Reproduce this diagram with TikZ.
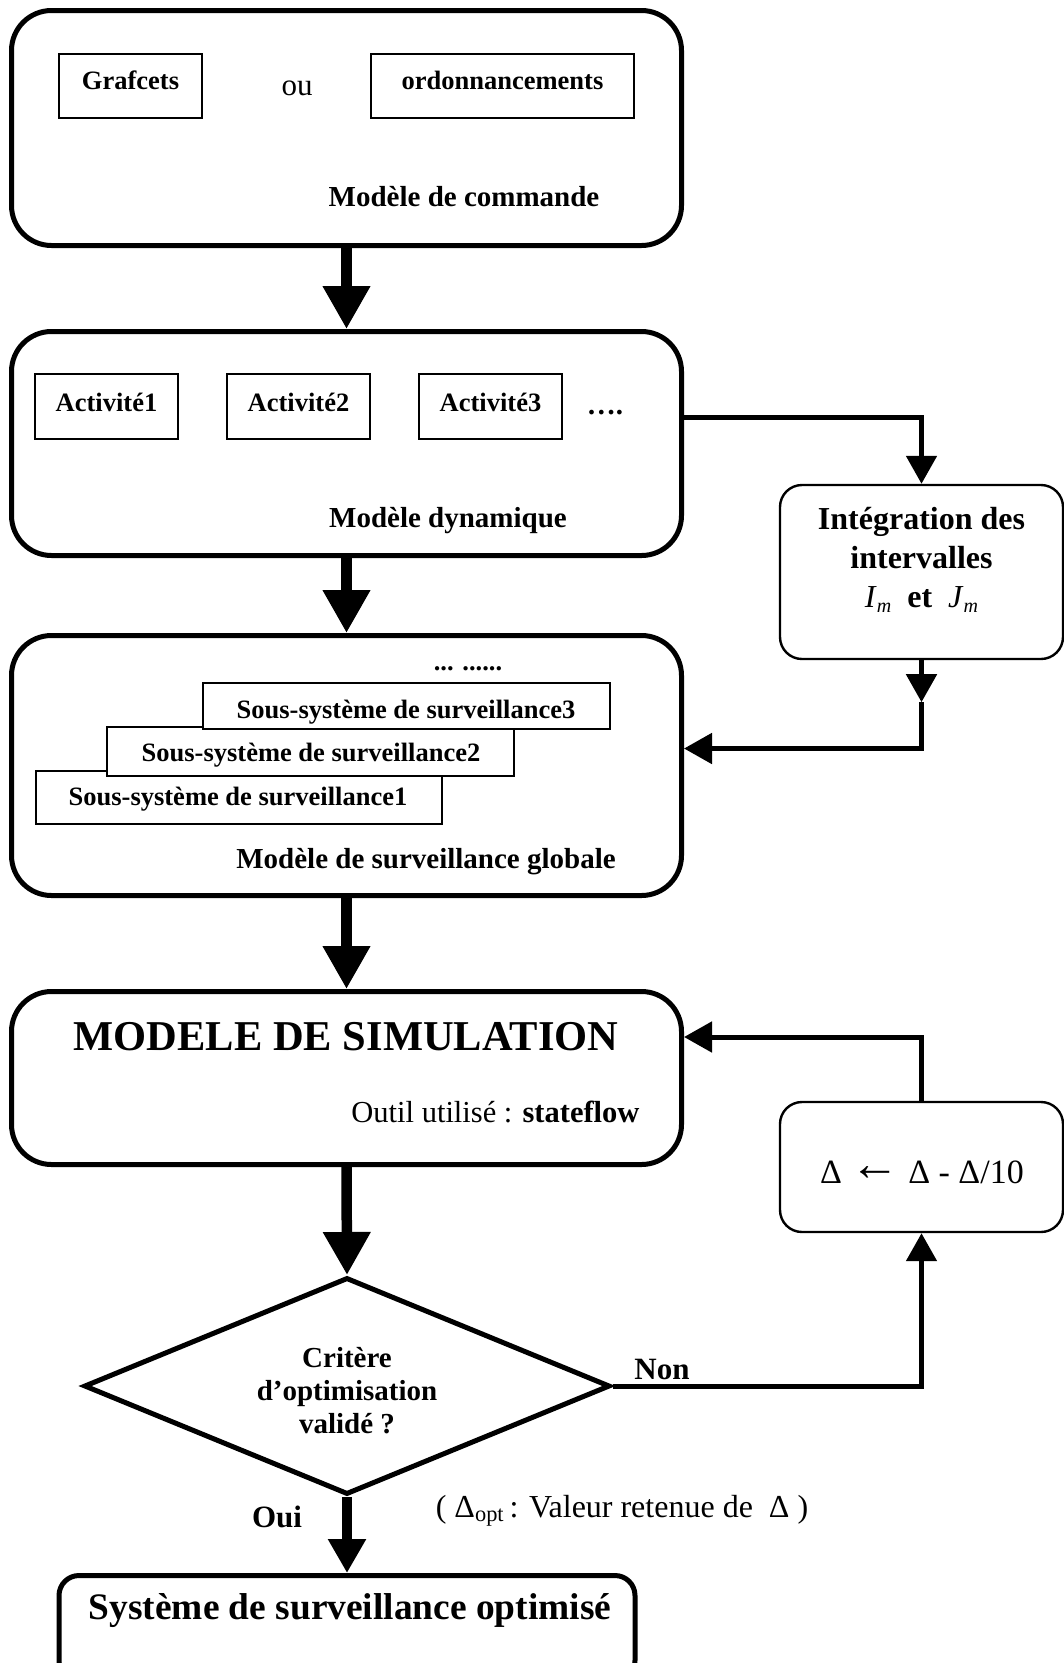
\documentclass[tikz,border=0pt]{standalone}
\usepackage{fontspec}
\setmainfont{Liberation Serif}
\usetikzlibrary{shapes.geometric,arrows.meta,calc}

\newcommand\fsz[2]{\fontsize{#1}{#2}\selectfont}

\tikzset{
  bigbox/.style={draw, line width=5pt, rounded corners=40pt, inner sep=0pt},
  subbox/.style={draw, line width=1.8pt, fill=white, inner sep=0pt},
  sidebox/.style={draw, line width=2.4pt, rounded corners=22pt, inner sep=0pt},
  decision/.style={diamond, draw, line width=5pt, inner sep=0pt},
  subtxt/.style={font=\fsz{26.5pt}{30pt}\bfseries},
  mainarrow/.style={line width=10.5pt, -{Triangle[length=43pt,width=45pt]}},
  sidearrow/.style={line width=5pt, -{Triangle[length=28pt,width=30pt]}},
}

\begin{document}
\begin{tikzpicture}[x=1pt, y=-1pt, every node/.style={font=\fsz{29pt}{33pt}\bfseries}]
  \useasboundingbox (0,0) rectangle (1064,1663);

  % Modele de commande
  \node[bigbox, minimum width=670pt, minimum height=235pt] (cmd) at (346.5,128) {};
  \node[subbox, minimum width=143pt, minimum height=64pt] (graf) at (130.5,86) {};
  \node[subtxt] (graftxt) at (130.5,80) {Grafcets};
  \node[font=\fsz{31pt}{34pt}\mdseries] (ou) at (297,88) {ou};
  \node[subtxt, subbox, minimum width=263pt, minimum height=64pt] (ordo) at (502.5,86) {};
  \node[subtxt] (ordotxt) at (502.5,80) {ordonnancements};
  \node (cmdtxt) at (464,197) {Modèle de commande};

  % Modele dynamique
  \node[bigbox, minimum width=670pt, minimum height=224pt] (dyn) at (346.5,443.5) {};
  \node[subbox, minimum width=143pt, minimum height=65pt] (act1) at (106.5,406.5) {};
  \node[subbox, minimum width=143pt, minimum height=65pt] (act2) at (298.5,406.5) {};
  \node[subbox, minimum width=143pt, minimum height=65pt] (act3) at (490.5,406.5) {};
  \node[subtxt] at (106.5,402) {Activité1};
  \node[subtxt] at (298.5,402) {Activité2};
  \node[subtxt] at (490.5,402) {Activité3};
  \node (actdots) at (605,413) {….};
  \node (dyntxt) at (448,521) {Modèle dynamique};

  % Modele de surveillance globale
  \node[bigbox, minimum width=670pt, minimum height=260pt] (surv) at (346.5,765.5) {};
  \node[subtxt] (ssdots) at (468,669) {... ......};
  \node[subbox, minimum width=406pt, minimum height=53pt] (ss1) at (239,797.5) {};
  \node[subtxt] at (238,799) {Sous-système de surveillance1};
  \node[subbox, minimum width=407pt, minimum height=49pt] (ss2) at (310.5,751.5) {};
  \node[subtxt] at (311,755) {Sous-système de surveillance2};
  \node[subbox, minimum width=407pt, minimum height=46pt] (ss3) at (406.5,706) {};
  \node[subtxt] at (406,712) {Sous-système de surveillance3};
  \node (survtxt) at (426,862) {Modèle de surveillance globale};

  % Modele de simulation
  \node[bigbox, minimum width=670pt, minimum height=173pt] (sim) at (346.5,1078) {};
  \node[font=\fsz{42.5pt}{46pt}\bfseries] (simtxt) at (346,1037) {MODELE DE SIMULATION};
  \node[font=\fsz{30.5pt}{34pt}\mdseries, anchor=east] (outil) at (643,1112) {Outil utilisé : \textbf{stateflow}};

  % Blocs lateraux
  \node[sidebox, minimum width=283pt, minimum height=174pt] (integ) at (921.5,572) {};
  \node[font=\fsz{32pt}{39pt}\bfseries, align=center] (integtxt) at (921.5,560)
    {Intégration des\\intervalles\\\textmd{\textit{I}\raisebox{-5pt}{\fsz{20pt}{20pt}\itshape m}}\ \ et\ \ \textmd{\textit{J}\raisebox{-5pt}{\fsz{20pt}{20pt}\itshape m}}};
  \node[sidebox, minimum width=283pt, minimum height=130pt] (delta) at (921.5,1167) {};
  \node[font=\fsz{34pt}{38pt}\mdseries] (deltatxt) at (922,1172)
    {Δ\ \raisebox{3pt}{\scalebox{1.45}{←}}\ Δ - Δ/10};

  % Test et sortie
  \node[decision, minimum width=526pt, minimum height=217pt] (crit) at (347,1386) {};
  \node[align=center] (crittxt) at (347,1391) {Critère\\d’optimisation\\validé ?};
  \node[bigbox, rounded corners=20pt, minimum width=576pt, minimum height=105pt] (final) at (347,1628) {};
  \node[font=\fsz{37.4pt}{40pt}\bfseries] (finaltxt) at (350,1611) {Système de surveillance optimisé};
  \node[font=\fsz{31pt}{34pt}\bfseries] (oui) at (277,1517) {Oui};
  \node[font=\fsz{32pt}{35pt}\mdseries] (dopt) at (622,1511)
    {(\ Δ\textsubscript{opt}\,: Valeur retenue de\ \ Δ\ )};

  % Fleches principales
  \draw[mainarrow] (cmd.south) -- (dyn.north);
  \draw[mainarrow] (dyn.south) -- (surv.north);
  \draw[mainarrow] (surv.south) -- (sim.north);
  \draw[mainarrow] (sim.south) -- (crit.north);
  \draw[mainarrow, -{Triangle[length=34pt,width=36pt]}] (crit.south) -- (final.north);

  % Boucles
  \coordinate (integout) at ($(integ.south)+(0,42)$);
  \draw[sidearrow] ($(dyn.east)+(0,-26.5)$) -| (integ.north);
  \draw[sidearrow] (integ.south) -- (integout);
  \draw[sidearrow] (integout) |- ($(surv.east)+(0,-17)$);
  \draw[sidearrow] (delta.north) |- ($(sim.east)+(0,-41)$);
  \draw[sidearrow] (crit.east) -| node[pos=0.08, above, font=\fsz{31pt}{34pt}\bfseries] (non) {Non} (delta.south);
\end{tikzpicture}
\end{document}
